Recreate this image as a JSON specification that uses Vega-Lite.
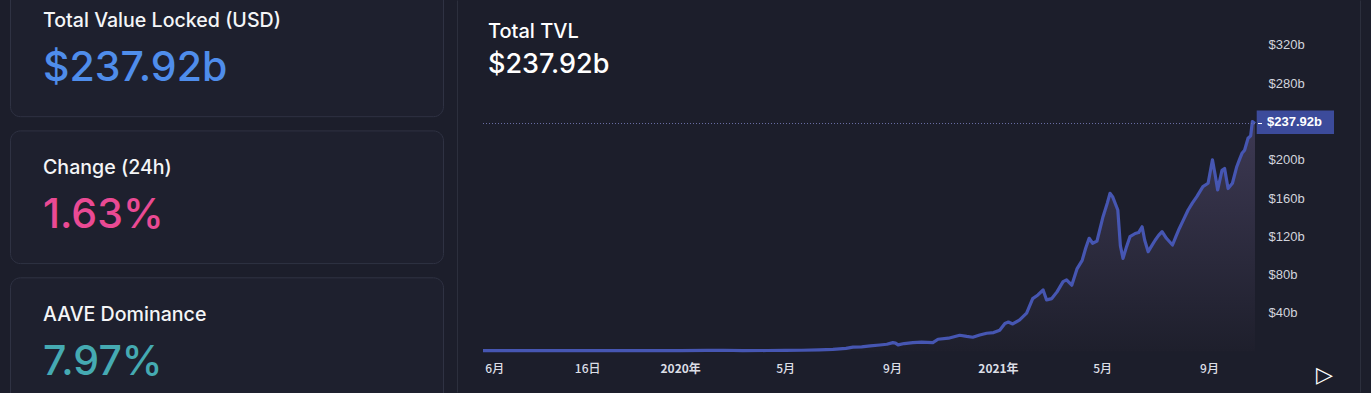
{
  "$schema": "https://vega.github.io/schema/vega-lite/v6.json",
  "background": "#1c1e2b",
  "padding": {"left": 10, "right": 10, "top": 0, "bottom": 0},
  "bounds": "flush",
  "spacing": 39,
  "config": {
    "view": {"stroke": null},
    "axis": {"grid": false, "domain": false, "ticks": false, "tickSize": 0}
  },
  "datasets": {
    "kpis": [
      {"card": 1, "panel": "kpi", "metric": "tvl", "label": "Total Value Locked (USD)", "value": "$237.92b"},
      {"card": 2, "panel": "kpi", "metric": "change", "label": "Change (24h)", "value": "1.63%"},
      {"card": 3, "panel": "kpi", "metric": "dominance", "label": "AAVE Dominance", "value": "7.97%"}
    ],
    "latest": [{"series": "Total TVL", "tvl": 237.92, "label": "$237.92b"}],
    "tvl": [
      {"date": "2019-05-19", "tvl": 0.6},
      {"date": "2019-06-10", "tvl": 0.62},
      {"date": "2019-07-05", "tvl": 0.6},
      {"date": "2019-08-01", "tvl": 0.55},
      {"date": "2019-09-01", "tvl": 0.58},
      {"date": "2019-10-01", "tvl": 0.6},
      {"date": "2019-11-01", "tvl": 0.66},
      {"date": "2019-12-01", "tvl": 0.66},
      {"date": "2020-01-01", "tvl": 0.66},
      {"date": "2020-02-01", "tvl": 0.8},
      {"date": "2020-02-20", "tvl": 1.0},
      {"date": "2020-03-13", "tvl": 0.55},
      {"date": "2020-04-10", "tvl": 0.75},
      {"date": "2020-05-01", "tvl": 0.85},
      {"date": "2020-05-20", "tvl": 1.0},
      {"date": "2020-06-09", "tvl": 1.4},
      {"date": "2020-06-25", "tvl": 1.9},
      {"date": "2020-07-10", "tvl": 3.0},
      {"date": "2020-07-18", "tvl": 4.2},
      {"date": "2020-07-28", "tvl": 4.5},
      {"date": "2020-08-07", "tvl": 5.5},
      {"date": "2020-08-18", "tvl": 6.5},
      {"date": "2020-08-26", "tvl": 7.3},
      {"date": "2020-09-02", "tvl": 9.0},
      {"date": "2020-09-05", "tvl": 8.5},
      {"date": "2020-09-08", "tvl": 6.6},
      {"date": "2020-09-15", "tvl": 8.0},
      {"date": "2020-09-25", "tvl": 9.0},
      {"date": "2020-10-05", "tvl": 9.5},
      {"date": "2020-10-18", "tvl": 9.0},
      {"date": "2020-10-24", "tvl": 12.5},
      {"date": "2020-11-05", "tvl": 13.6},
      {"date": "2020-11-18", "tvl": 16.7},
      {"date": "2020-11-26", "tvl": 15.5},
      {"date": "2020-12-03", "tvl": 14.6},
      {"date": "2020-12-11", "tvl": 17.0},
      {"date": "2020-12-19", "tvl": 18.8},
      {"date": "2020-12-27", "tvl": 19.5},
      {"date": "2021-01-03", "tvl": 22},
      {"date": "2021-01-09", "tvl": 29},
      {"date": "2021-01-13", "tvl": 30.5},
      {"date": "2021-01-18", "tvl": 28.5},
      {"date": "2021-01-26", "tvl": 32.7},
      {"date": "2021-02-03", "tvl": 39.7},
      {"date": "2021-02-10", "tvl": 55},
      {"date": "2021-02-16", "tvl": 58.8},
      {"date": "2021-02-22", "tvl": 64},
      {"date": "2021-02-26", "tvl": 53.6},
      {"date": "2021-03-04", "tvl": 55},
      {"date": "2021-03-10", "tvl": 62},
      {"date": "2021-03-17", "tvl": 72.7},
      {"date": "2021-03-21", "tvl": 74.5},
      {"date": "2021-03-27", "tvl": 69},
      {"date": "2021-04-02", "tvl": 86},
      {"date": "2021-04-08", "tvl": 95},
      {"date": "2021-04-12", "tvl": 107.6},
      {"date": "2021-04-16", "tvl": 118},
      {"date": "2021-04-20", "tvl": 112.8},
      {"date": "2021-04-25", "tvl": 115},
      {"date": "2021-05-02", "tvl": 140.6},
      {"date": "2021-05-07", "tvl": 155},
      {"date": "2021-05-10", "tvl": 165},
      {"date": "2021-05-13", "tvl": 161.5},
      {"date": "2021-05-19", "tvl": 147.6},
      {"date": "2021-05-22", "tvl": 110},
      {"date": "2021-05-25", "tvl": 97},
      {"date": "2021-05-29", "tvl": 109},
      {"date": "2021-06-02", "tvl": 119.7},
      {"date": "2021-06-08", "tvl": 123},
      {"date": "2021-06-12", "tvl": 124},
      {"date": "2021-06-16", "tvl": 130},
      {"date": "2021-06-19", "tvl": 116},
      {"date": "2021-06-23", "tvl": 104},
      {"date": "2021-06-27", "tvl": 110},
      {"date": "2021-07-01", "tvl": 116},
      {"date": "2021-07-05", "tvl": 121},
      {"date": "2021-07-09", "tvl": 125},
      {"date": "2021-07-14", "tvl": 118},
      {"date": "2021-07-21", "tvl": 111},
      {"date": "2021-07-25", "tvl": 120},
      {"date": "2021-07-29", "tvl": 128.5},
      {"date": "2021-08-03", "tvl": 138},
      {"date": "2021-08-08", "tvl": 147.6},
      {"date": "2021-08-13", "tvl": 155},
      {"date": "2021-08-18", "tvl": 161.5},
      {"date": "2021-08-25", "tvl": 172},
      {"date": "2021-08-31", "tvl": 175.5},
      {"date": "2021-09-05", "tvl": 200},
      {"date": "2021-09-08", "tvl": 185},
      {"date": "2021-09-11", "tvl": 168.5},
      {"date": "2021-09-16", "tvl": 189},
      {"date": "2021-09-19", "tvl": 191},
      {"date": "2021-09-23", "tvl": 170},
      {"date": "2021-09-28", "tvl": 175.5},
      {"date": "2021-10-03", "tvl": 192.8},
      {"date": "2021-10-06", "tvl": 200},
      {"date": "2021-10-09", "tvl": 206.8},
      {"date": "2021-10-12", "tvl": 210},
      {"date": "2021-10-16", "tvl": 222.5},
      {"date": "2021-10-19", "tvl": 225},
      {"date": "2021-10-21", "tvl": 240},
      {"date": "2021-10-24", "tvl": 237.92}
    ]
  },
  "hconcat": [
    {
      "width": 434,
      "height": 393,
      "data": {"name": "kpis"},
      "encoding": {
        "y": {"field": "card", "type": "ordinal", "scale": {"type": "band", "range": [-16, 410.5], "paddingInner": 0.0967, "paddingOuter": 0}, "axis": null},
        "x": {"field": "panel", "type": "nominal", "scale": {"type": "band", "range": [0.5, 433.5], "paddingInner": 0, "paddingOuter": 0}, "axis": null}
      },
      "layer": [
        {"mark": {"type": "rect", "clip": true, "cornerRadius": 10, "fill": "#1e202e", "stroke": "#2f3243", "strokeWidth": 1}},
        {
          "mark": {"type": "text", "align": "left", "baseline": "alphabetic", "dx": 32.5, "dy": 42.8, "font": "Inter", "fontSize": 19.6, "fontWeight": 500, "fill": "#f4f5f7"},
          "encoding": {
            "y": {"field": "card", "type": "ordinal", "bandPosition": 0},
            "x": {"field": "panel", "type": "nominal", "bandPosition": 0},
            "text": {"field": "label"}
          }
        },
        {
          "mark": {"type": "text", "align": "left", "baseline": "alphabetic", "dx": 32.5, "dy": 97.4, "font": "Inter", "fontSize": 41, "fontWeight": 500},
          "encoding": {
            "y": {"field": "card", "type": "ordinal", "bandPosition": 0},
            "x": {"field": "panel", "type": "nominal", "bandPosition": 0},
            "text": {"field": "value"},
            "color": {"field": "metric", "type": "nominal", "scale": {"domain": ["tvl", "change", "dominance"], "range": ["#4f8deb", "#ea4a94", "#45aab2"]}, "legend": null}
          }
        }
      ]
    },
    {
      "width": 772,
      "height": 356,
      "title": {
        "text": "Total TVL",
        "subtitle": "$237.92b",
        "anchor": "start",
        "frame": "group",
        "orient": "top",
        "offset": -77.6,
        "dx": 5,
        "font": "Inter",
        "fontSize": 20,
        "fontWeight": 500,
        "color": "#ffffff",
        "subtitleFont": "Inter",
        "subtitleFontSize": 27,
        "subtitleFontWeight": 500,
        "subtitleColor": "#ffffff",
        "subtitlePadding": 9.8
      },
      "layer": [
        {
          "data": {"name": "tvl"},
          "mark": {"type": "area", "fill": {"gradient": "linear", "x1": 0, "y1": 0, "x2": 0, "y2": 1, "stops": [{"offset": 0, "color": "#3d3953"}, {"offset": 1, "color": "#1e1f2c"}]}},
          "encoding": {
            "x": {
              "field": "date", "type": "temporal",
              "scale": {"domain": [{"year": 2019, "month": 5, "date": 19}, {"year": 2021, "month": 10, "date": 24}], "nice": false},
              "axis": {
                "values": [
                  {"year": 2019, "month": 6, "date": 1},
                  {"year": 2019, "month": 9, "date": 16},
                  {"year": 2020, "month": 1, "date": 1},
                  {"year": 2020, "month": 5, "date": 1},
                  {"year": 2020, "month": 9, "date": 1},
                  {"year": 2021, "month": 1, "date": 1},
                  {"year": 2021, "month": 5, "date": 1},
                  {"year": 2021, "month": 9, "date": 1}
                ],
                "labelExpr": "date(datum.value) != 1 ? date(datum.value) + '日' : (month(datum.value) == 0 ? year(datum.value) + '年' : (month(datum.value) + 1) + '月')",
                "title": null,
                "labelPadding": 7,
                "labelFont": "Noto Sans CJK SC",
                "labelFontSize": 12,
                "labelColor": "#dcdee6",
                "labelFontWeight": {"condition": {"test": "month(datum.value) == 0 && date(datum.value) == 1", "value": "bold"}, "value": 500},
                "labelFlush": false,
                "labelOverlap": false
              }
            },
            "y": {
              "field": "tvl", "type": "quantitative",
              "scale": {"domain": [-5, 367], "nice": false, "zero": false},
              "axis": {
                "orient": "right",
                "values": [40, 80, 120, 160, 200, 280, 320],
                "labelExpr": "'$' + datum.value + 'b'",
                "title": null,
                "labelPadding": 13,
                "labelFont": "Liberation Sans",
                "labelFontSize": 13,
                "labelColor": "#d1d4dc"
              }
            }
          }
        },
        {
          "data": {"name": "tvl"},
          "mark": {"type": "line", "stroke": "#4656b2", "strokeWidth": 3.2, "strokeJoin": "round"},
          "encoding": {
            "x": {"field": "date", "type": "temporal"},
            "y": {"field": "tvl", "type": "quantitative"}
          }
        },
        {
          "data": {"name": "latest"},
          "mark": {"type": "rule", "stroke": "#6a6fa6", "strokeDash": [1, 2], "strokeWidth": 1},
          "encoding": {"y": {"field": "tvl", "type": "quantitative"}}
        },
        {
          "data": {"name": "latest"},
          "mark": {"type": "rect", "fill": "#3c4b9b", "xOffset": 1.7, "x2Offset": 79, "yOffset": -13, "y2Offset": 10.5},
          "encoding": {
            "x": {"value": "width"},
            "x2": {"value": "width"},
            "y": {"field": "tvl", "type": "quantitative"},
            "y2": {"field": "tvl"}
          }
        },
        {
          "data": {"name": "latest"},
          "mark": {"type": "rule", "stroke": "#ffffff", "strokeWidth": 1, "xOffset": 3, "x2Offset": 7},
          "encoding": {
            "x": {"value": "width"},
            "x2": {"value": "width"},
            "y": {"field": "tvl", "type": "quantitative"}
          }
        },
        {
          "data": {"name": "latest"},
          "mark": {"type": "text", "align": "left", "baseline": "middle", "dx": 12, "dy": -1.5, "font": "Liberation Sans", "fontSize": 13, "fontWeight": "bold", "fill": "#ffffff"},
          "encoding": {
            "x": {"value": "width"},
            "y": {"field": "tvl", "type": "quantitative"},
            "text": {"field": "label"}
          }
        },
        {
          "data": {"name": "latest"},
          "mark": {"type": "text", "text": "▷", "align": "center", "baseline": "middle", "dx": 69.5, "dy": 18.5, "font": "DejaVu Sans", "fontSize": 22, "fill": "#ffffff"},
          "encoding": {"x": {"value": "width"}, "y": {"value": "height"}}
        },
        {
          "data": {"name": "latest"},
          "mark": {"type": "rule", "stroke": "#2c2f3d", "strokeWidth": 1, "xOffset": -25.5, "yOffset": 0.5, "y2Offset": 36.5},
          "encoding": {"x": {"value": 0}, "y": {"value": 0}, "y2": {"value": "height"}}
        },
        {
          "data": {"name": "latest"},
          "mark": {"type": "rule", "stroke": "#2c2f3d", "strokeWidth": 1, "xOffset": 105.5, "yOffset": 0.5, "y2Offset": 36.5},
          "encoding": {"x": {"value": "width"}, "y": {"value": 0}, "y2": {"value": "height"}}
        }
      ]
    }
  ]
}
